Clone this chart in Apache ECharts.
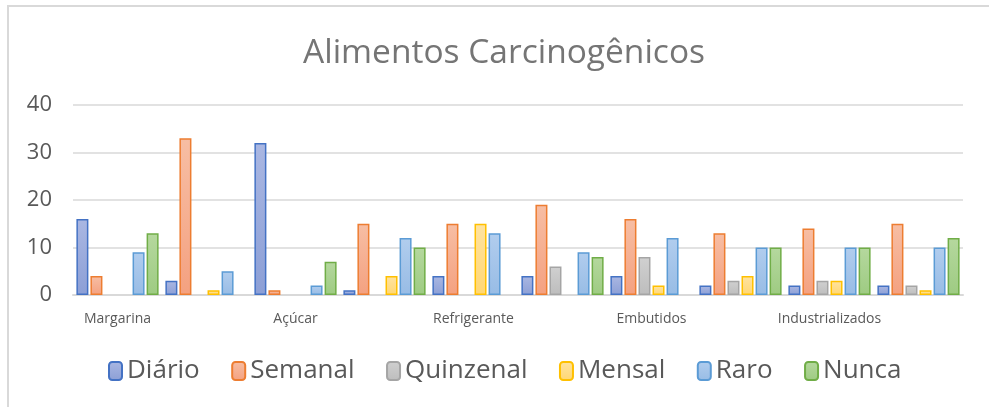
<!DOCTYPE html>
<html>
<head>
<meta charset="utf-8">
<script src="https://cdn.jsdelivr.net/npm/echarts@6/dist/echarts.min.js"></script>
<style>
html,body{margin:0;padding:0;background:#fff;}
#chart{width:989px;height:407px;}
</style>
</head>
<body>
<div id="chart"></div>
<script>
const titleText = 'Alimentos Carcinogênicos';
const categories = ['Margarina', '', 'Açúcar', '', 'Refrigerante', '', 'Embutidos', '', 'Industrializados', ''];
const seriesNames = ['Diário', 'Semanal', 'Quinzenal', 'Mensal', 'Raro', 'Nunca'];
const diario    = [16, 3, 32, 1, 4, 4, 4, 2, 2, 2];
const semanal   = [4, 33, 1, 15, 15, 19, 16, 13, 14, 15];
const quinzenal = [0, 0, 0, 0, 0, 6, 8, 3, 3, 2];
const mensal    = [0, 1, 0, 4, 15, 0, 2, 4, 3, 1];
const raro      = [9, 5, 2, 12, 13, 9, 12, 10, 10, 10];
const nunca     = [13, 0, 7, 10, 0, 8, 0, 10, 10, 12];
const yTicks = [0, 10, 20, 30, 40];

const values = [diario, semanal, quinzenal, mensal, raro, nunca];
const borders = ['#4472C4', '#ED7D31', '#A5A5A5', '#FFC000', '#5B9BD5', '#70AD47'];
const fillTop = ['#aab7e2', '#f7bea4', '#d0d0d0', '#ffe3a0', '#b1cdee', '#b5d89e'];
const fillBot = ['#8c9fd6', '#f4a180', '#bdbdbd', '#ffd773', '#98bce5', '#9ecb82'];

const FONT = '"Open Sans", sans-serif';
const chart = echarts.init(document.getElementById('chart'), null, {renderer: 'canvas'});
chart.setOption({
  animation: false,
  backgroundColor: '#fff',
  graphic: [{
    type: 'polyline',
    shape: {points: [[8, 420], [8, 6], [1000, 6]]},
    style: {stroke: '#d9d9d9', lineWidth: 2, fill: null},
    silent: true
  }],
  title: {
    text: titleText,
    left: 298,
    top: 31,
    textStyle: {fontFamily: FONT, fontSize: 33.5, fontWeight: 'normal', color: '#757575'}
  },
  legend: {
    data: seriesNames,
    left: 103,
    top: 353,
    itemWidth: 13,
    itemHeight: 18,
    itemGap: 31.5,
    textStyle: {fontFamily: FONT, fontSize: 26, color: '#595959', padding: [0, 0, 0, 0]}
  },
  grid: {left: 73, right: 26, top: 105, bottom: 112, containLabel: false},
  xAxis: {
    type: 'category',
    data: categories,
    axisLine: {show: true, lineStyle: {color: '#d9d9d9', width: 2}},
    axisTick: {show: false},
    axisLabel: {interval: 0, fontFamily: FONT, fontSize: 14, color: '#595959', margin: 17}
  },
  yAxis: {
    type: 'value',
    min: yTicks[0],
    max: yTicks[yTicks.length - 1],
    interval: 10,
    axisLine: {show: false},
    axisTick: {show: false},
    axisLabel: {fontFamily: FONT, fontSize: 22, color: '#595959', margin: 21},
    splitLine: {lineStyle: {color: '#d9d9d9', width: 1.5}}
  },
  series: seriesNames.map((name, i) => ({
    name: name,
    type: 'bar',
    data: values[i].map(v => v === 0 ? {value: 0, itemStyle: {borderWidth: 0, opacity: 0}} : v),
    barWidth: 12,
    barGap: '17%',
    itemStyle: {
      color: new echarts.graphic.LinearGradient(0, 0, 0, 1, [
        {offset: 0, color: fillTop[i]},
        {offset: 1, color: fillBot[i]}
      ]),
      borderColor: borders[i],
      borderWidth: 1.5
    }
  }))
});
</script>
</body>
</html>
